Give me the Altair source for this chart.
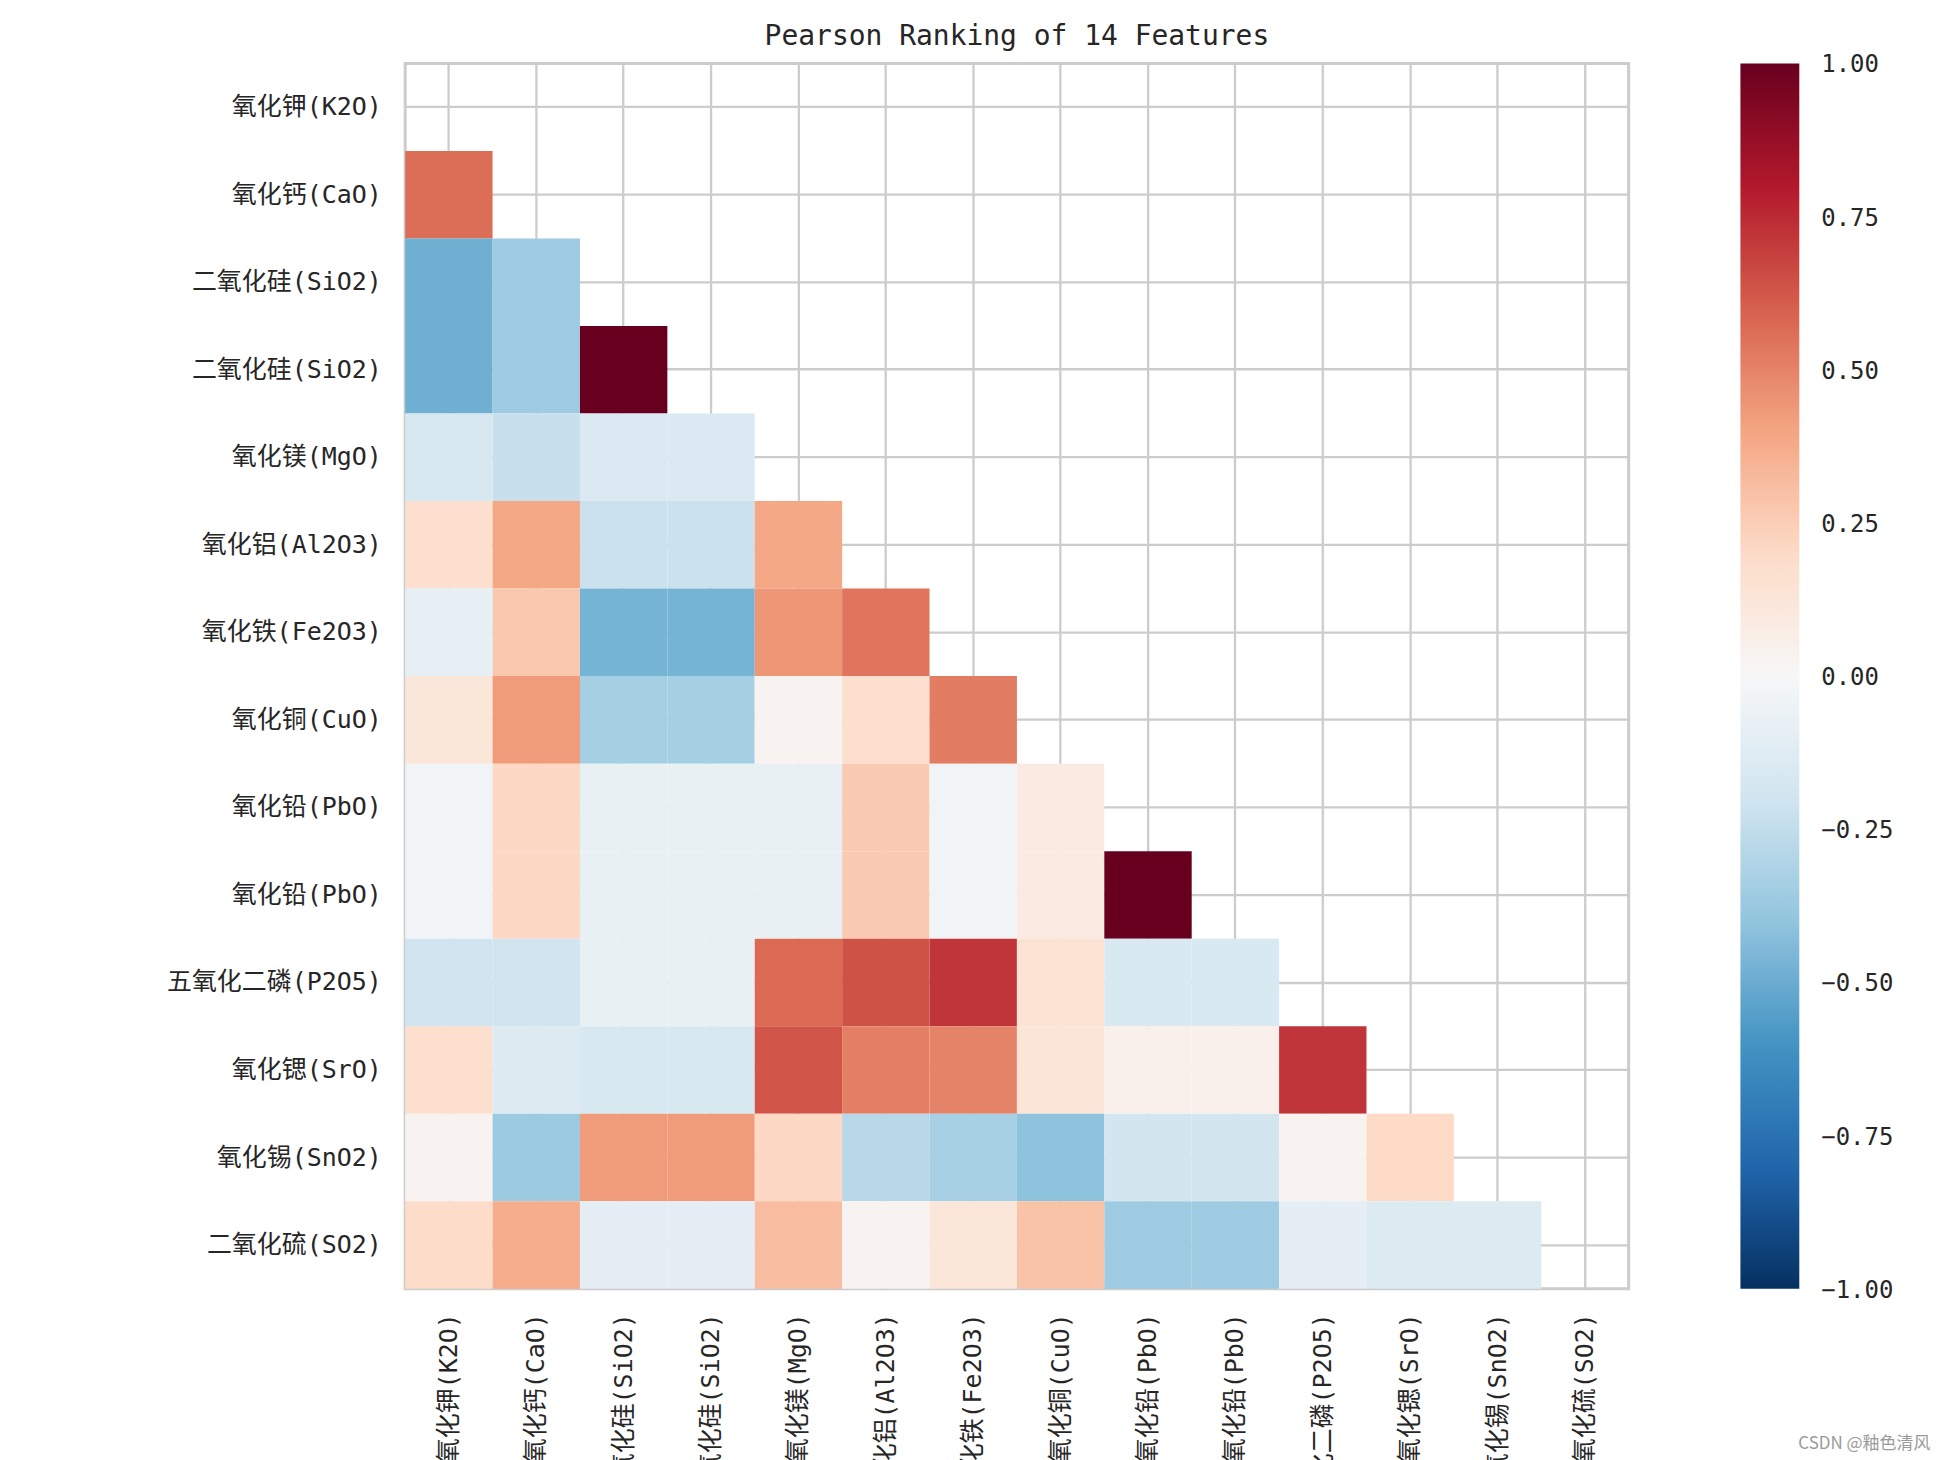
import json
import altair as alt
import pandas as pd

# ---- data ----
features = [
    "氧化钾(K2O)", "氧化钙(CaO)", "二氧化硅(SiO2)", "二氧化硅(SiO2)",
    "氧化镁(MgO)", "氧化铝(Al2O3)", "氧化铁(Fe2O3)", "氧化铜(CuO)",
    "氧化铅(PbO)", "氧化铅(PbO)", "五氧化二磷(P2O5)", "氧化锶(SrO)",
    "氧化锡(SnO2)", "二氧化硫(SO2)",
]

# lower-triangle correlation values, one list per row (row 0 is fully masked)
row_k2o = []
row_cao = [0.56]
row_sio2_a = [-0.49, -0.36]
row_sio2_b = [-0.49, -0.36, 1.00]
row_mgo = [-0.17, -0.23, -0.15, -0.15]
row_al2o3 = [0.17, 0.39, -0.22, -0.22, 0.39]
row_fe2o3 = [-0.09, 0.27, -0.47, -0.47, 0.44, 0.54]
row_cuo = [0.12, 0.43, -0.34, -0.34, 0.03, 0.17, 0.52]
row_pbo_a = [-0.03, 0.21, -0.08, -0.08, -0.08, 0.26, -0.03, 0.09]
row_pbo_b = [-0.03, 0.21, -0.08, -0.08, -0.08, 0.26, -0.03, 0.09, 1.00]
row_p2o5 = [-0.20, -0.20, -0.08, -0.08, 0.57, 0.64, 0.72, 0.15, -0.16, -0.16]
row_sro = [0.17, -0.14, -0.17, -0.17, 0.63, 0.51, 0.50, 0.13, 0.05, 0.05, 0.72]
row_sno2 = [0.03, -0.37, 0.43, 0.43, 0.21, -0.28, -0.33, -0.41, -0.19, -0.19, 0.03, 0.20]
row_so2 = [0.19, 0.37, -0.10, -0.10, 0.31, 0.03, 0.12, 0.29, -0.36, -0.36, -0.10, -0.14, -0.14]

colorbar_ticks = [-1.0, -0.75, -0.5, -0.25, 0.0, 0.25, 0.5, 0.75, 1.0]
title_text = "Pearson Ranking of 14 Features"
watermark = "CSDN @釉色清风"

# matplotlib RdBu_r colour stops
rdbu_r = ["#053061", "#2166ac", "#4393c3", "#92c5de", "#d1e5f0", "#f7f7f7",
          "#fddbc7", "#f4a582", "#d6604d", "#b2182b", "#67001f"]
rdbu_stops = [-1.0, -0.8, -0.6, -0.4, -0.2, 0.0, 0.2, 0.4, 0.6, 0.8, 1.0]

rows = [row_k2o, row_cao, row_sio2_a, row_sio2_b, row_mgo, row_al2o3, row_fe2o3,
        row_cuo, row_pbo_a, row_pbo_b, row_p2o5, row_sro, row_sno2, row_so2]

records = []
for i, vals in enumerate(rows):
    for j, v in enumerate(vals):
        records.append({"row": i, "col": j, "r": v})
df = pd.DataFrame(records)

idx = list(range(len(features)))
label_expr = json.dumps(features, ensure_ascii=False) + "[datum.value]"
FONT = "'DejaVu Sans Mono', 'Noto Sans CJK SC'"
TXT = "#262626"


def make_axis(angle):
    return alt.Axis(
        title=None, labelExpr=label_expr, labelAngle=angle, ticks=False, domain=False,
        grid=True, gridColor="#cccccc", gridWidth=2.3, tickBand="center", bandPosition=0.5,
        labelFont=FONT, labelFontSize=25, labelColor=TXT, labelPadding=24,
        labelLimit=400, labelOverlap=False, zindex=0,
    )


heat = alt.Chart(df).mark_rect(strokeWidth=0).encode(
    x=alt.X("col:O", scale=alt.Scale(domain=idx, paddingInner=0, paddingOuter=0),
            axis=make_axis(-90)),
    y=alt.Y("row:O", scale=alt.Scale(domain=idx, paddingInner=0, paddingOuter=0),
            axis=make_axis(0)),
    color=alt.Color(
        "r:Q",
        scale=alt.Scale(domain=rdbu_stops, range=rdbu_r, interpolate="rgb"),
        legend=alt.Legend(
            title=None, orient="none", legendX=1338, legendY=0, direction="vertical",
            gradientLength=1228, gradientThickness=59, gradientStrokeWidth=0,
            values=colorbar_ticks, labelExpr="''", padding=0,
        ),
    ),
)

# colorbar tick labels, placed by their own linear scale over the plot height
cbar_labels = alt.Chart(pd.DataFrame({"v": colorbar_ticks})).mark_text(
    align="left", baseline="middle", dy=2, fontSize=24, font=FONT, color=TXT
).encode(
    y=alt.Y("v:Q", scale=alt.Scale(domain=[-1, 1], nice=False, zero=False), axis=None),
    text=alt.Text("v:Q", format=".2f"),
    x=alt.value(1419),
)

wm = alt.Chart(pd.DataFrame({"t": [watermark]})).mark_text(
    align="left", baseline="middle", fontSize=17, color="#9a9a9a", font="Noto Sans CJK SC"
).encode(text="t:N", x=alt.value(1396), y=alt.value(1383))

chart = alt.layer(heat, cbar_labels, wm).resolve_scale(y="independent").properties(
    width=1226,
    height=1228,
    title=alt.Title(title_text, fontSize=28, font="DejaVu Sans Mono", fontWeight="normal",
                    color=TXT, offset=2, anchor="middle"),
    autosize=alt.AutoSizeParams(type="none"),
    padding={"left": 398, "top": 54, "right": 318, "bottom": 170},
).configure_view(stroke="#cccccc", strokeWidth=3)

chart.save("out.html", embed_options={"renderer": "svg", "actions": False})
